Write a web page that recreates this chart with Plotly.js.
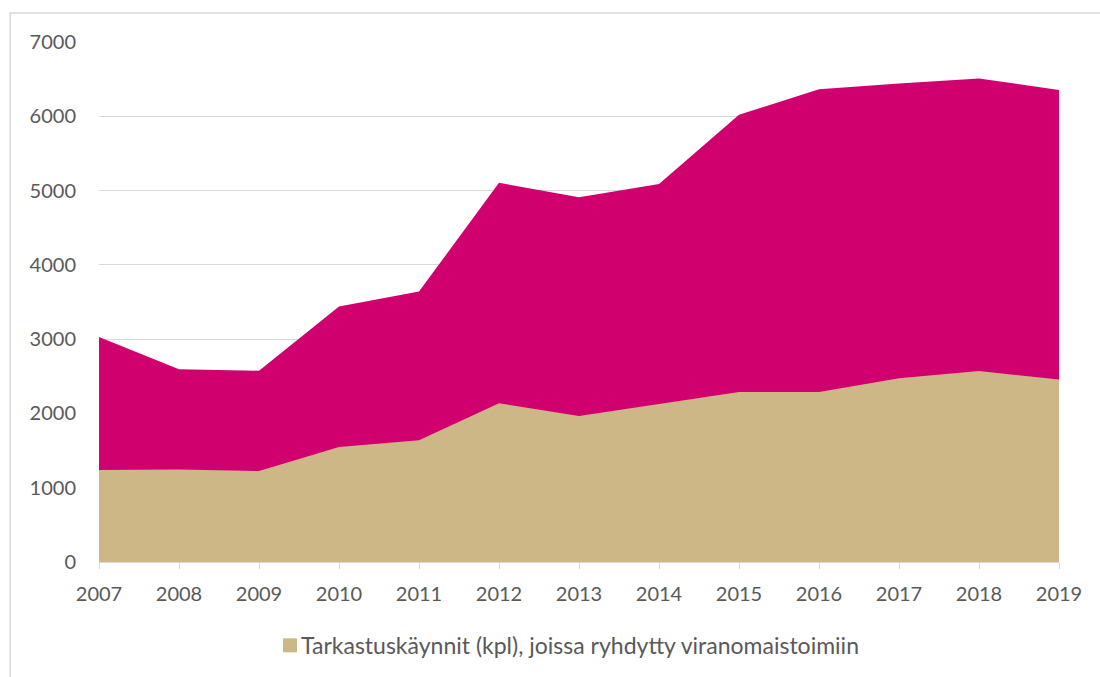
<!DOCTYPE html>
<html>
<head>
<meta charset="utf-8">
<script src="https://cdn.plot.ly/plotly-3.0.1.min.js"></script>
<style>
html,body{margin:0;padding:0;background:#fff;}
#chart{width:1100px;height:677px;}
</style>
</head>
<body>
<div id="chart"></div>
<script>
const years = [2007, 2008, 2009, 2010, 2011, 2012, 2013, 2014, 2015, 2016, 2017, 2018, 2019];
const totalVisits = [3030, 2595, 2575, 3440, 3640, 5105, 4910, 5088, 6020, 6365, 6443, 6510, 6355];
const actionVisits = [1238, 1245, 1225, 1548, 1638, 2136, 1965, 2125, 2288, 2288, 2473, 2570, 2458];
const totalName = "Tarkastuskäynnit yhteensä (kpl)";
const actionName = "Tarkastuskäynnit (kpl), joissa ryhdytty viranomaistoimiin";
const yTicks = [0, 1000, 2000, 3000, 4000, 5000, 6000, 7000];

const MAGENTA = "#d0006f";
const TAN = "#cdb787";
const font = {family: "Lato, 'Open Sans', sans-serif", size: 20, color: "#595959"};
const legendFont = {family: "Lato, 'Open Sans', sans-serif", size: 23, color: "#595959"};

const traces = [
  {
    x: years, y: totalVisits, name: totalName, type: "scatter", mode: "lines",
    fill: "tozeroy", fillcolor: MAGENTA, line: {width: 0, color: MAGENTA},
    showlegend: false
  },
  {
    x: years, y: actionVisits, name: actionName, type: "scatter", mode: "lines",
    fill: "tozeroy", fillcolor: TAN, line: {width: 0, color: TAN},
    showlegend: false
  }
];

const layout = {
  width: 1100, height: 677,
  margin: {l: 99, r: 41, t: 42, b: 115},
  paper_bgcolor: "#ffffff", plot_bgcolor: "#ffffff",
  font: font,
  showlegend: false,
  xaxis: {
    range: [2007, 2019], tickvals: years, ticktext: years.map(String),
    showgrid: false, zeroline: false,
    showline: true, linecolor: "#d9d9d9", linewidth: 1,
    ticks: "outside", ticklen: 6, tickcolor: "#d9d9d9", tickwidth: 1,
    ticklabelstandoff: 8,
    tickfont: font, fixedrange: true
  },
  yaxis: {
    range: [0, 7000], tickvals: yTicks, ticktext: yTicks.map(String),
    showgrid: true, gridcolor: "#d9d9d9", gridwidth: 1,
    zeroline: false, showline: false, ticks: "",
    ticklabelstandoff: 22,
    tickfont: font, fixedrange: true
  },
  shapes: [
    {type: "rect", xref: "paper", yref: "paper",
     x0: -0.0925, x1: 1.2, y0: -0.4, y1: 1.0558,
     line: {color: "#d9d9d9", width: 1.5}, fillcolor: "rgba(0,0,0,0)", layer: "below"},
    {type: "rect", xref: "paper", yref: "paper",
     x0: 0.1917, x1: 0.2063, y0: -0.1737, y1: -0.1467,
     line: {width: 0}, fillcolor: TAN}
  ],
  annotations: [
    {xref: "paper", yref: "paper", x: 0.2083, y: -0.1596,
     xanchor: "left", yanchor: "middle", showarrow: false,
     text: actionName, font: legendFont}
  ]
};

Plotly.newPlot("chart", traces, layout, {displayModeBar: false, staticPlot: true});
</script>
</body>
</html>
